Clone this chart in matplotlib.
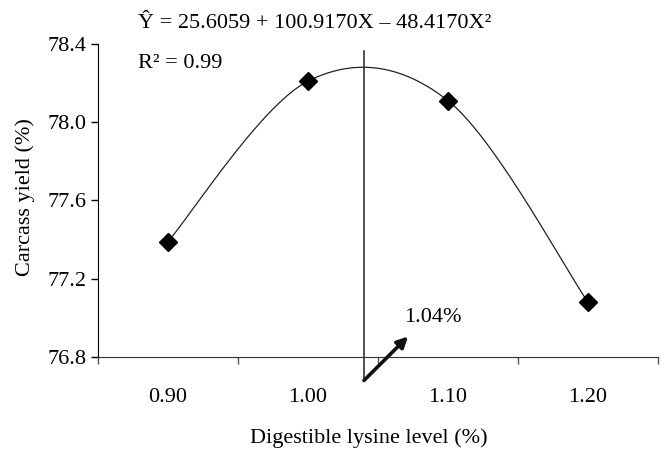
import numpy as np
import matplotlib
matplotlib.use("Agg")
import matplotlib.pyplot as plt

plt.rcParams['font.family'] = ['Liberation Serif', 'DejaVu Serif']

lysine = ["0.90", "1.00", "1.10", "1.20"]
carcass = [77.39, 78.21, 78.11, 77.08]
optimum = 1.04
equation = "Ŷ = 25.6059 + 100.9170X – 48.4170X²"
r2_text = "R² = 0.99"


def smooth_line(xs, ys, n=60):
    # bezier smoothing through the points, like a spreadsheet "smoothed line"
    pts = np.column_stack([xs, ys]).astype(float)
    padded = np.vstack([pts[0], pts, pts[-1]])
    out = []
    for i in range(len(pts) - 1):
        p0, p1, p2, p3 = padded[i], padded[i + 1], padded[i + 2], padded[i + 3]
        c1 = p1 + (p2 - p0) / 6
        c2 = p2 - (p3 - p1) / 6
        t = np.linspace(0, 1, n)[:, None]
        seg = ((1 - t) ** 3) * p1 + 3 * ((1 - t) ** 2) * t * c1 + 3 * (1 - t) * t ** 2 * c2 + t ** 3 * p2
        out.append(seg)
    out = np.vstack(out)
    return out[:, 0], out[:, 1]


fig = plt.figure(figsize=(6.62, 4.5), dpi=100)
ax = fig.add_axes([0.148, 0.2067, 0.846, 0.6956])

xpos = np.arange(len(lysine))
sx, sy = smooth_line(xpos, carcass)
ax.plot(sx, sy, color="#222222", lw=0.9)
ax.plot(xpos, carcass, ls="none", marker="D", ms=9, color="black")

# optimum line: category scale, 1.00 -> 1, 1.10 -> 2
xopt = 1 + (optimum - 1.00) / 0.10
ax.plot([xopt, xopt], [76.68, 78.365], color="#333333", lw=1.2, clip_on=False)
ax.annotate("", xy=(1.715, 76.905), xytext=(xopt, 76.68),
            arrowprops=dict(arrowstyle="-|>", lw=2.6, color="#111111", mutation_scale=16,
                            shrinkA=0, shrinkB=0), annotation_clip=False)
ax.text(1.69, 77.0, "1.04%", fontsize=16, va="center", ha="left")

ax.set_xlim(-0.5, 3.5)
ax.set_ylim(76.8, 78.4)
ax.set_xticks(np.arange(-0.5, 3.6, 1))
ax.set_xticklabels([])
ax.set_xticks(xpos, minor=True)
ax.set_xticklabels(lysine, minor=True, fontsize=16)
ax.tick_params(axis="x", which="major", direction="out", length=5, width=1, color="#555555")
ax.tick_params(axis="x", which="minor", length=0, pad=22)
ax.set_yticks([76.8, 77.2, 77.6, 78.0, 78.4])
ax.set_yticklabels(["76.8", "77.2", "77.6", "78.0", "78.4"], fontsize=16)
ax.tick_params(axis="y", direction="out", length=5, width=1, pad=3)

ax.spines["top"].set_visible(False)
ax.spines["right"].set_visible(False)
ax.spines["bottom"].set_color("#333333")

fig.text(0.557, 0.027, "Digestible lysine level (%)", fontsize=16, ha="center", va="center")
fig.text(0.038, 0.562, "Carcass yield (%)", fontsize=16, ha="center", va="center", rotation=90)
fig.text(138 / 662, 1 - 24 / 450, equation, fontsize=16, ha="left", va="center")
fig.text(138 / 662, 1 - 64 / 450, r2_text, fontsize=16, ha="left", va="center")

fig.savefig("out.png", dpi=100)
